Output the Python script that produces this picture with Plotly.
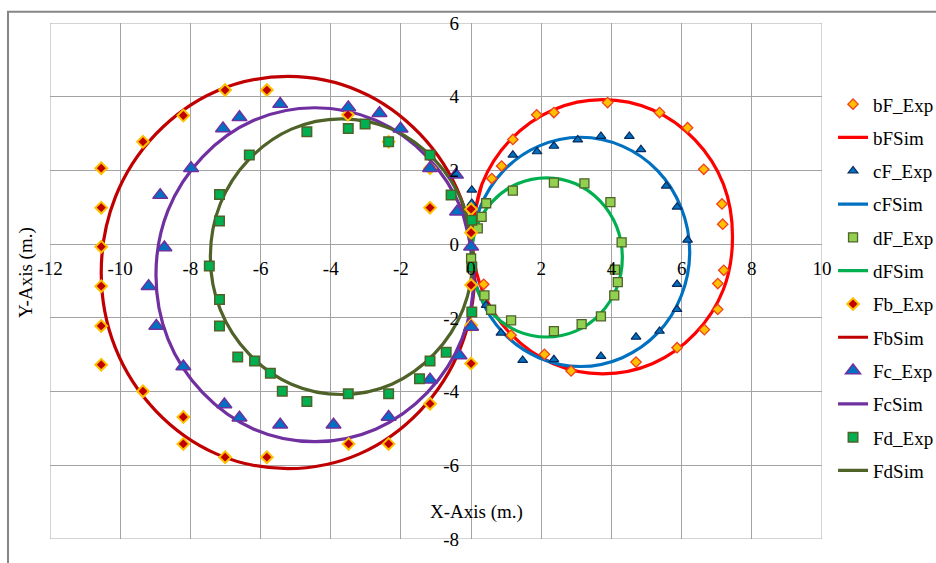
import plotly.graph_objects as go

# ---------------- data ----------------
bF_exp_x = [0.59, 0.87, 1.19, 1.87, 2.36, 3.89, 5.37, 6.17, 6.63, 7.15, 7.17, 7.20, 7.03, 7.03, 6.65, 5.87, 4.70, 2.85, 2.09, 1.14, 0.36]
bF_exp_y = [1.78, 2.12, 2.84, 3.51, 3.57, 3.84, 3.57, 3.16, 2.03, 1.09, 0.54, -0.71, -1.07, -1.77, -2.32, -2.81, -3.20, -3.44, -2.99, -2.47, -1.09]

bF_sim_x = [0.03, 0.31, 1.12, 2.33, 3.75, 5.18, 6.38, 7.19, 7.45, 7.19, 6.38, 5.18, 3.75, 2.33, 1.12, 0.31, 0.03, 0.31]
bF_sim_y = [0.20, 1.63, 2.83, 3.64, 3.92, 3.64, 2.83, 1.63, 0.20, -1.23, -2.43, -3.24, -3.52, -3.24, -2.43, -1.23, 0.20, 1.63]

cF_exp_x = [0.02, 0.02, 1.19, 1.88, 2.36, 3.04, 3.70, 4.51, 4.84, 5.56, 5.87, 6.17, 5.87, 5.87, 5.37, 4.70, 3.70, 2.36, 1.47, 0.85, 0.43]
cF_exp_y = [1.47, 1.11, 2.42, 2.51, 2.66, 2.83, 2.93, 2.93, 2.57, 1.58, 1.01, 0.11, -1.09, -1.77, -2.36, -2.52, -3.04, -3.13, -3.15, -2.41, -1.66]

cF_sim_x = [0.01, 0.25, 0.92, 1.93, 3.12, 4.31, 5.32, 5.99, 6.23, 5.99, 5.32, 4.31, 3.12, 1.93, 0.92, 0.25, 0.01, 0.25]
cF_sim_y = [-0.21, 0.98, 1.99, 2.66, 2.90, 2.66, 1.99, 0.98, -0.21, -1.40, -2.41, -3.08, -3.32, -3.08, -2.41, -1.40, -0.21, 0.98]

dF_exp_x = [0.19, 0.30, 0.43, 1.19, 2.36, 3.23, 3.97, 4.29, 4.10, 4.18, 4.08, 3.70, 3.15, 2.36, 1.14, 0.57, 0.38, 0.00]
dF_exp_y = [0.43, 0.74, 1.11, 1.45, 1.67, 1.65, 1.14, 0.05, -0.69, -1.03, -1.39, -1.96, -2.17, -2.36, -2.07, -1.78, -1.39, -0.39]

dF_sim_x = [-0.01, 0.15, 0.62, 1.32, 2.15, 2.98, 3.68, 4.15, 4.31, 4.15, 3.68, 2.98, 2.15, 1.32, 0.62, 0.15, -0.01, 0.15]
dF_sim_y = [-0.36, 0.47, 1.17, 1.64, 1.80, 1.64, 1.17, 0.47, -0.36, -1.19, -1.89, -2.36, -2.52, -2.36, -1.89, -1.19, -0.36, 0.47]

Fb_exp_x = [-10.54, -10.54, -10.54, -10.54, -10.54, -10.54, -9.35, -8.20, -7.01, -5.82, -3.51, -2.35, -1.17, -1.17,
            -9.35, -8.20, -8.20, -7.01, -5.82, -3.49, -2.35, -1.17, 0.00, 0.00, 0.00, 0.00, 0.00]
Fb_exp_y = [2.06, 0.99, -0.07, -1.14, -2.22, -3.27, 2.78, 3.49, 4.18, 4.18, 3.51, 2.78, 2.06, 0.99,
            -3.99, -4.69, -5.42, -5.78, -5.78, -5.42, -5.42, -4.33, 0.31, 0.95, -1.11, -2.20, -3.24]

Fb_sim_x = [0.10, -0.30, -1.46, -3.18, -5.22, -7.26, -8.98, -10.14, -10.54, -10.14, -8.98, -7.26, -5.22, -3.18, -1.46, -0.30, 0.10, -0.30]
Fb_sim_y = [-0.77, 1.27, 2.99, 4.15, 4.55, 4.15, 2.99, 1.27, -0.77, -2.81, -4.53, -5.69, -6.09, -5.69, -4.53, -2.81, -0.77, 1.27]

Fc_exp_x = [-5.44, -6.60, -7.07, -7.98, -8.86, -8.74, -3.50, -2.61, -2.01, -1.17, -0.43, -0.40, 0.00, 0.00,
            -0.33, -1.17, -2.35, -3.92, -5.44, -6.60, -7.03, -8.20, -8.97, -9.19]
Fc_exp_y = [3.80, 3.44, 3.14, 2.06, 1.33, -0.09, 3.71, 3.55, 3.13, 2.06, 1.88, 0.88, -0.07, -2.25,
            -3.02, -3.68, -4.69, -4.90, -4.90, -4.71, -4.35, -3.32, -2.22, -1.14]

Fc_sim_x = [0.08, -0.26, -1.25, -2.72, -4.45, -6.19, -7.65, -8.64, -8.98, -8.64, -7.65, -6.19, -4.45, -2.72, -1.25, -0.26, 0.08, -0.26]
Fc_sim_y = [-0.83, 0.91, 2.37, 3.36, 3.70, 3.36, 2.37, 0.91, -0.83, -2.57, -4.03, -5.02, -5.36, -5.02, -4.03, -2.57, -0.83, 0.91]

Fd_exp_x = [-4.68, -3.50, -3.02, -2.35, -1.17, -6.32, -7.17, -7.17, -7.46, -7.17, -7.17, -6.65, -6.17, -5.72, -5.38,
            -4.68, -3.50, -2.35, -1.47, -1.17, -0.57, 0.02, 0.02, 0.02, -0.71]
Fd_exp_y = [3.05, 3.14, 3.26, 2.78, 2.42, 2.42, 1.35, 0.63, -0.59, -1.50, -2.22, -3.06, -3.17, -3.50, -3.99,
            -4.27, -4.06, -4.06, -3.65, -3.17, 1.33, 0.65, -0.62, -1.84, -2.93]

Fd_sim_x = [0.05, -0.23, -1.05, -2.26, -3.69, -5.12, -6.33, -7.15, -7.43, -7.15, -6.33, -5.12, -3.69, -2.26, -1.05, -0.23, 0.05, -0.23]
Fd_sim_y = [-0.34, 1.09, 2.30, 3.12, 3.40, 3.12, 2.30, 1.09, -0.34, -1.77, -2.98, -3.80, -4.08, -3.80, -2.98, -1.77, -0.34, 1.09]

x_ticks = [-12, -10, -8, -6, -4, -2, 0, 2, 4, 6, 8, 10]
y_ticks = [-8, -6, -4, -2, 0, 2, 4, 6]

# ---------------- figure ----------------
FONT = "Liberation Serif"
fig = go.Figure()

sims = [
    ("bFSim", bF_sim_x, bF_sim_y, "#FF0000", 2),
    ("cFSim", cF_sim_x, cF_sim_y, "#0070C0", 4),
    ("dFSim", dF_sim_x, dF_sim_y, "#00B050", 6),
    ("FbSim", Fb_sim_x, Fb_sim_y, "#C00000", 8),
    ("FcSim", Fc_sim_x, Fc_sim_y, "#7030A0", 10),
    ("FdSim", Fd_sim_x, Fd_sim_y, "#4F6228", 12),
]
for name, xs, ys, col, rank in sims:
    fig.add_trace(go.Scatter(
        x=xs, y=ys, name=name, mode="lines",
        line=dict(color=col, width=3.2, shape="spline", smoothing=1),
        legendrank=rank, legendgroup=name,
    ))

exps = [
    ("bF_Exp", bF_exp_x, bF_exp_y, "diamond", 8, "#FFC000", "#F0401C", 1.3, 1),
    ("cF_Exp", cF_exp_x, cF_exp_y, "triangle-up", 8.5, "#0070C0", "#0B2A5C", 1.2, 3),
    ("dF_Exp", dF_exp_x, dF_exp_y, "square", 9, "#92D050", "#4F6228", 1.3, 5),
    ("Fb_Exp", Fb_exp_x, Fb_exp_y, "diamond", 9, "#C00000", "#FFC000", 2, 7),
    ("Fc_Exp", Fc_exp_x, Fc_exp_y, "triangle-up", 13, "#0070C0", "#7030A0", 1.5, 9),
    ("Fd_Exp", Fd_exp_x, Fd_exp_y, "square", 9.5, "#00B050", "#4F6228", 1.5, 11),
]
for name, xs, ys, sym, size, fill, edge, lw, rank in exps:
    fig.add_trace(go.Scatter(
        x=xs, y=ys, name=name, mode="markers",
        marker=dict(symbol=sym, size=size, color=fill, line=dict(color=edge, width=lw)),
        legendrank=rank, legendgroup=name,
    ))

GRID = "#A3A3A3"
fig.update_layout(
    width=936, height=563,
    margin=dict(l=50, r=114, t=23, b=24, autoexpand=False),
    paper_bgcolor="white", plot_bgcolor="white",
    font=dict(family=FONT, size=19, color="black"),
    showlegend=True,
    legend=dict(
        x=1.0143, xanchor="left", y=0.8793, yanchor="top",
        font=dict(family=FONT, size=19, color="black"),
        bgcolor="rgba(0,0,0,0)", tracegroupgap=5.6,
    ),
    xaxis=dict(
        range=[-12, 10], tickvals=x_ticks, ticktext=[str(v) for v in x_ticks],
        showgrid=True, gridcolor=GRID, gridwidth=1, zeroline=False, showline=False,
        anchor="free", position=8 / 14, ticks="", ticklabelstandoff=11, automargin=False,
        ticklabeloverflow="allow",
        tickfont=dict(family=FONT, size=19, color="black"),
    ),
    yaxis=dict(
        range=[-8, 6], tickvals=y_ticks, ticktext=[str(v) for v in y_ticks],
        showgrid=True, gridcolor=GRID, gridwidth=1, zeroline=False, showline=False,
        anchor="free", position=12 / 22, ticks="", ticklabelstandoff=12, automargin=False,
        ticklabeloverflow="allow",
        tickfont=dict(family=FONT, size=19, color="black"),
    ),
    shapes=[
        dict(type="rect", xref="x", yref="y", x0=-12, x1=10, y0=-8, y1=6,
             line=dict(color="#A8A8A8", width=1), layer="below"),
        dict(type="rect", xref="paper", yref="paper", x0=-0.0544, x1=1.3, y0=-0.2, y1=1.0219,
             line=dict(color="#868686", width=2)),
    ],
    annotations=[
        dict(text="X-Axis (m.)", xref="x", yref="y", x=0.15, y=-7.26, showarrow=False,
             xanchor="center", yanchor="middle",
             font=dict(family=FONT, size=19, color="black")),
        dict(text="Y-Axis (m.)", xref="paper", yref="paper", x=-0.0311, y=0.5174, showarrow=False,
             xanchor="center", yanchor="middle", textangle=-90,
             font=dict(family=FONT, size=19, color="black")),
    ],
)

fig.write_html("out.html", config={"displayModeBar": False},
               post_script="document.body.style.margin='0px';")
